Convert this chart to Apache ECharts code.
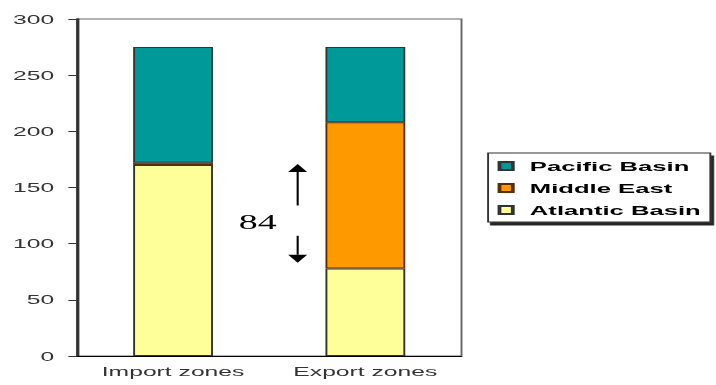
<!DOCTYPE html>
<html>
<head>
<meta charset="utf-8">
<script src="https://cdn.jsdelivr.net/npm/echarts@6/dist/echarts.min.js"></script>
<style>
  html, body { margin: 0; padding: 0; background: #fff; overflow: hidden; }
  #wrap { width: 716px; height: 385px; overflow: hidden; }
  /* the source picture is stretched sideways, so draw narrow and widen */
  #chart { width: 377px; height: 385px; transform: scaleX(1.8992); transform-origin: 0 0; }
</style>
</head>
<body>
<div id="wrap"><div id="chart"></div></div>
<script>
const categories = ['Import zones', 'Export zones']
const atlantic = [170, 78]
const middleEast = [2, 130]
const pacific = [103, 67]
const yTicks = [0, 50, 100, 150, 200, 250, 300]
const gapLabel = '84'
// arrow ends, the break in its shaft and the label height, in axis units
const gapFrom = 171
const gapTo = 83
const gapBreak = [134, 107]
const gapLabelAt = 119

let myChart = echarts.init(document.getElementById('chart'), null, { renderer: 'svg' })

const barBorder = { borderColor: '#333', borderWidth: 1 }

myChart.setOption({
  backgroundColor: '#fff',
  animation: false,
  grid: {
    left: 40.5,
    right: 134,
    top: 19,
    bottom: 29,
    outerBoundsMode: 'none',
    show: true,
    borderColor: '#666',
    borderWidth: 1
  },
  legend: {
    orient: 'vertical',
    left: 257,
    top: 153,
    data: ['Pacific Basin', 'Middle East', 'Atlantic Basin'],
    itemWidth: 7,
    itemHeight: 8,
    itemGap: 8,
    padding: [6, 5, 5, 5],
    icon: 'rect',
    backgroundColor: '#fff',
    borderColor: '#333',
    borderWidth: 1,
    shadowColor: 'rgba(0,0,0,0.85)',
    shadowOffsetX: 1.5,
    shadowOffsetY: 3,
    shadowBlur: 0,
    textStyle: {
      color: '#000',
      fontFamily: 'Liberation Sans',
      fontWeight: 'bold',
      fontSize: 13.5,
      padding: [0, 0, 0, 4]
    }
  },
  xAxis: {
    type: 'category',
    data: categories,
    axisLine: { lineStyle: { color: '#000', width: 1 } },
    axisTick: { show: false },
    axisLabel: {
      color: '#333',
      fontFamily: 'Liberation Sans',
      fontSize: 13,
      margin: 9
    }
  },
  yAxis: {
    type: 'value',
    min: yTicks[0],
    max: yTicks[yTicks.length - 1],
    interval: yTicks[1] - yTicks[0],
    splitLine: { show: false },
    axisLine: { show: true, lineStyle: { color: '#333', width: 1.6 } },
    axisTick: { show: true, length: 4.5, lineStyle: { color: '#333', width: 1 } },
    axisLabel: {
      color: '#333',
      fontFamily: 'Liberation Sans',
      fontSize: 13,
      margin: 12
    }
  },
  series: [
    {
      name: 'Atlantic Basin',
      type: 'bar',
      stack: 'zones',
      barWidth: '41.5%',
      data: atlantic,
      itemStyle: Object.assign({ color: '#FFFF99' }, barBorder)
    },
    {
      name: 'Middle East',
      type: 'bar',
      stack: 'zones',
      data: middleEast,
      itemStyle: { color: '#FF9900', borderColor: '#5a2e00', borderWidth: 1 }
    },
    {
      name: 'Pacific Basin',
      type: 'bar',
      stack: 'zones',
      data: pacific,
      itemStyle: Object.assign({ color: '#009999' }, barBorder)
    }
  ]
})

// double arrow with the gap value, placed from the axes
function py (v) {
  return myChart.convertToPixel({ yAxisIndex: 0 }, v)
}
let p0 = myChart.convertToPixel({ xAxisIndex: 0 }, categories[0])
let p1 = myChart.convertToPixel({ xAxisIndex: 0 }, categories[1])
let ax = p0 + (p1 - p0) * 0.648
let tx = p0 + (p1 - p0) * 0.44
let yTop = py(gapFrom)
let yBot = py(gapTo)
let head = 8
let half = 5
myChart.setOption({
  graphic: [
    {
      type: 'line',
      shape: { x1: ax, y1: yTop + head, x2: ax, y2: py(gapBreak[0]) },
      style: { stroke: '#000', lineWidth: 1.1 }
    },
    {
      type: 'line',
      shape: { x1: ax, y1: py(gapBreak[1]), x2: ax, y2: yBot - head },
      style: { stroke: '#000', lineWidth: 1.1 }
    },
    {
      type: 'polygon',
      shape: { points: [[ax, yTop], [ax - half, yTop + head], [ax + half, yTop + head]] },
      style: { fill: '#000' }
    },
    {
      type: 'polygon',
      shape: { points: [[ax, yBot], [ax - half, yBot - head], [ax + half, yBot - head]] },
      style: { fill: '#000' }
    },
    {
      type: 'text',
      x: tx,
      y: py(gapLabelAt),
      style: {
        text: gapLabel,
        fill: '#000',
        fontFamily: 'Liberation Serif',
        fontSize: 20,
        align: 'center',
        verticalAlign: 'middle'
      }
    }
  ]
})
</script>
</body>
</html>
